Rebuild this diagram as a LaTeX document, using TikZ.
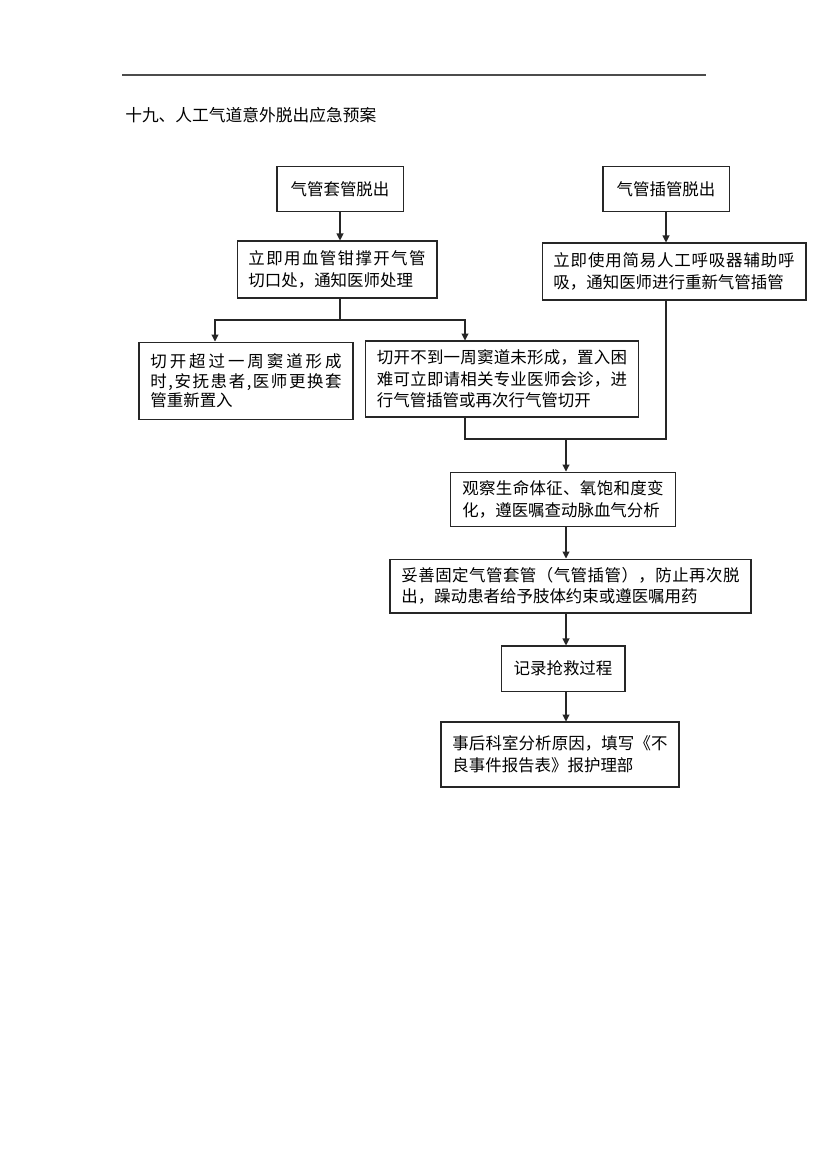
\documentclass[tikz,border=0pt]{standalone}
\usepackage{fontspec}
\setmainfont{Noto Sans CJK SC}
\usetikzlibrary{arrows.meta}
\ExplSyntaxOn
\NewDocumentCommand{\jline}{m}{\makebox[\linewidth][s]{\tl_map_inline:nn {#1} {##1\hskip 0pt plus 1fil}\unskip}}
\ExplSyntaxOff

\begin{document}
\begin{tikzpicture}[x = 0.7172pt, y = -0.7172pt, >={Triangle[length=5pt, width=5pt]},
  box/.style = {draw = black!85, line width = 0.75pt, inner xsep = 8.2pt, inner ysep = 0pt, align = left, font = \fontsize{11.8}{15.5}\selectfont},
  sbox/.style = {box, align = center},
  conn/.style = {line width = 0.75pt, black!85}]

\useasboundingbox (0,0) rectangle (830,1174);
\draw[line width = 1.1pt, black!70] (122,75) to (706,75);
\node[anchor = west, inner sep = 0pt, font = \fontsize{12}{14}\selectfont] (t) at (125,115) {十九、人工气道意外脱出应急预案};

\node[sbox, minimum width = 90.4pt, minimum height = 31.6pt] (b1) at (340,189) {气管套管脱出};
\node[sbox, minimum width = 90.4pt, minimum height = 31.6pt] (b3) at (666,189) {气管插管脱出};
\node[box, text width = 127pt, minimum height = 40.9pt] (b2) at (337,269.5) {\jline{立即用血管钳撑开气管}\\切口处，通知医师处理};
\node[box, text width = 172.9pt, minimum height = 40.9pt] (b4) at (674,271.5) {\jline{立即使用简易人工呼吸器辅助呼}\\吸，通知医师进行重新气管插管};
\node[box, text width = 137.1pt, minimum height = 55.9pt, font = \fontsize{11.8}{14}\selectfont] (b5) at (246,381) {\jline{切开超过一周窦道形成}\\\jline{时,安抚患者,医师更换套}\\管重新置入};
\node[box, text width = 179.4pt, minimum height = 54.5pt] (b6) at (502,379) {\jline{切开不到一周窦道未形成，置入困}\\\jline{难可立即请相关专业医师会诊，进}\\行气管插管或再次行气管切开};
\node[box, text width = 144.3pt, minimum height = 39.4pt] (b7) at (563,499.5) {\jline{观察生命体征、氧饱和度变}\\化，遵医嘱查动脉血气分析};
\node[box, text width = 242.5pt, minimum height = 38.7pt] (b8) at (570.5,586) {\jline{妥善固定气管套管（气管插管），防止再次脱}\\出，躁动患者给予肢体约束或遵医嘱用药};
\node[sbox, minimum width = 88.9pt, minimum height = 32.3pt] (b9) at (563,668.5) {记录抢救过程};
\node[box, text width = 154.3pt, minimum height = 46.6pt] (b10) at (560,754.5) {\jline{事后科室分析原因，填写《不}\\良事件报告表》报护理部};

\coordinate (s) at (340,320);
\coordinate (s5) at (215,320);
\coordinate (s6) at (465,320);
\coordinate (m) at (566,439);

\draw[conn, ->] (b1.south) to (b1.south |- b2.north);
\draw[conn, ->] (b3.south) to (b3.south |- b4.north);
\draw[conn] (b2.south -| s) to (s);
\draw[conn, ->] (s) -| (b5.north -| s5);
\draw[conn, ->] (s) -| (b6.north -| s6);
\draw[conn] (b6.south -| s6) |- (m) -| (b4.south -| b3.south);
\draw[conn, ->] (m) to (m |- b7.north);
\draw[conn, ->] (b7.south -| m) to (m |- b8.north);
\draw[conn, ->] (b8.south -| m) to (m |- b9.north);
\draw[conn, ->] (b9.south -| m) to (m |- b10.north);

\end{tikzpicture}
\end{document}
